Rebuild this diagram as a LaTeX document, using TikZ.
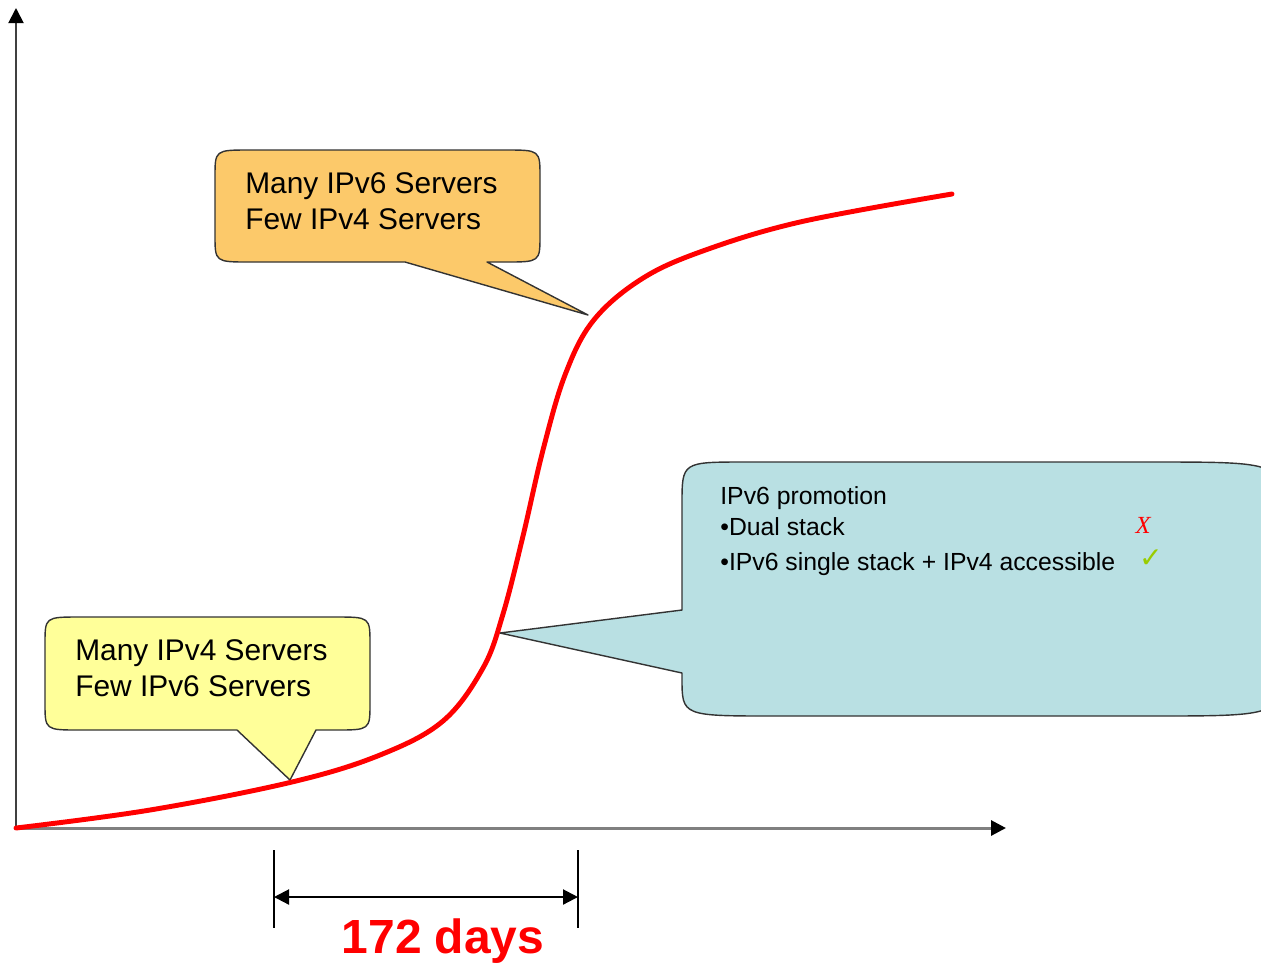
\documentclass[tikz,border=0pt]{standalone}
\usepackage{fontspec}
\setmainfont{Liberation Sans}
\newfontfamily\serifx{Liberation Serif}
\newfontfamily\symfont{DejaVu Sans}
\usetikzlibrary{arrows.meta}
\definecolor{curvered}{RGB}{255,0,0}
\definecolor{boxorange}{RGB}{252,201,106}
\definecolor{boxyellow}{RGB}{255,255,153}
\definecolor{boxblue}{RGB}{185,224,227}
\definecolor{checkgreen}{RGB}{153,204,0}
\tikzset{
  callout/.style={draw=black!80, line width=0.8pt, line join=round},
  calltext/.style={anchor=base west, inner sep=0pt, font=\fontsize{17}{20}\selectfont},
  promotext/.style={anchor=base west, inner sep=0pt, font=\fontsize{14.1}{17}\selectfont},
  dimtick/.style={line width=0.8pt},
  axistip/.tip={Triangle[length=3mm, width=3mm, color=black]}
}

\begin{document}
\begin{tikzpicture}[x=0.02cm, y=-0.02cm]
  \useasboundingbox (0,0) rectangle (1261,965);
  \clip (0,0) rectangle (1261,965);

  % axes
  \coordinate (o) at (16,828);
  \coordinate (xend) at (1006,828);
  \coordinate (yend) at (16,8);
  \draw[black!50, line width=1.7pt, -{axistip}] (o) -- (xend);
  \draw[black!75, line width=1.1pt, -{axistip}] (o) -- (yend);

  % callouts
  \filldraw[callout, fill=boxorange] (250,150) -- (505,150) .. controls (540,150) .. (540,177)
    -- (540,235) .. controls (540,262) .. (505,262) -- (487,262) -- (588,315) -- (405,262)
    -- (250,262) .. controls (215,262) .. (215,235) -- (215,177) .. controls (215,150) .. (250,150) -- cycle;
  \node[calltext] (v6many) at (245,193) {Many IPv6 Servers};
  \node[calltext] (v4few) at (245,229) {Few IPv4 Servers};

  \filldraw[callout, fill=boxyellow] (80,617) -- (335,617) .. controls (370,617) .. (370,644)
    -- (370,703) .. controls (370,730) .. (335,730) -- (316,730) -- (290,780) -- (237,730)
    -- (80,730) .. controls (45,730) .. (45,703) -- (45,644) .. controls (45,617) .. (80,617) -- cycle;
  \node[calltext] (v4many) at (75,660) {Many IPv4 Servers};
  \node[calltext] (v6few) at (75,696) {Few IPv6 Servers};

  \filldraw[callout, fill=boxblue] (745,462) -- (1150,462) .. controls (1282,462) .. (1282,515)
    -- (1282,663) .. controls (1282,716) .. (1150,716) -- (775,716) .. controls (682,716) .. (682,678)
    -- (682,673) -- (500,633) -- (682,610) -- (682,504) .. controls (682,462) .. (745,462) -- cycle;
  \node[promotext] (promo) at (720,504) {IPv6 promotion};
  \node[promotext] (dual) at (720,535) {•Dual stack};
  \node[promotext] (single) at (720,570) {•IPv6 single stack + IPv4 accessible};
  \node[text=curvered, font=\fontsize{14}{16}\serifx\itshape] (nomark) at (1143,525) {X};
  \node[text=checkgreen, font=\fontsize{16}{18}\symfont] (okmark) at (1151,559) {✓};

  % growth curve
  \draw[curvered, line width=2.8pt, line cap=round] plot[smooth, tension=0.6] coordinates {
    (16,828) (150,810) (292,782) (380,755) (443,721) (483,668) (503,614) (523,536)
    (543,450) (565,375) (593,321) (640,280) (700,252) (800,222) (952,194)};

  % time span
  \coordinate (s1top) at (274,850);
  \coordinate (s1bot) at (274,928);
  \coordinate (s2top) at (578,850);
  \coordinate (s2bot) at (578,928);
  \draw[dimtick] (s1top) -- (s1bot);
  \draw[dimtick] (s2top) -- (s2bot);
  \coordinate (s1) at (274,897);
  \coordinate (s2) at (578,897);
  \draw[line width=1.2pt, {axistip}-{axistip}] (s1) -- (s2);
  \node[anchor=base, inner sep=0pt, text=curvered, font=\fontsize{27.3}{30}\selectfont\bfseries] (days) at (443,953) {172 days};
\end{tikzpicture}
\end{document}
